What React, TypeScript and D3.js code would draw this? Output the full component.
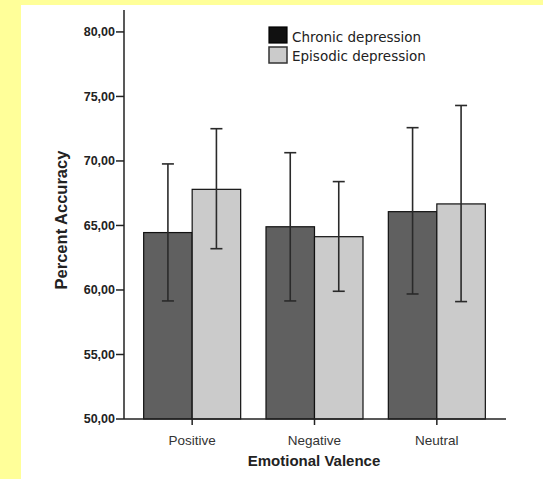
import React from "react";
import * as d3 from "d3";

const categories = ["Positive", "Negative", "Neutral"];
const seriesNames = ["Chronic depression", "Episodic depression"];
const chronicMean = [64.45, 64.9, 66.07];
const chronicLow = [59.15, 59.15, 59.69];
const chronicHigh = [69.77, 70.64, 72.58];
const episodicMean = [67.8, 64.13, 66.67];
const episodicLow = [63.2, 59.9, 59.1];
const episodicHigh = [72.5, 68.4, 74.3];
const yTicks = [50, 55, 60, 65, 70, 75, 80];

const W = 543;
const H = 479;

export default function App() {
  const y = d3.scaleLinear().domain([50, 81.7]).range([419, 10]);
  const x = d3.scaleBand<string>().domain(categories).range([131, 498]);
  const sub = d3.scaleBand<string>().domain(seriesNames).range([-48.5, 48.5]);
  const fmt = (v: number) => d3.format(".2f")(v).replace(".", ",");
  const fills = ["#606060", "#cbcbcb"];
  const series = [
    { mean: chronicMean, low: chronicLow, high: chronicHigh },
    { mean: episodicMean, low: episodicLow, high: episodicHigh },
  ];
  const x0 = 124;
  const x1 = 506;
  const y0 = y(50);
  return (
    <svg
      width={W}
      height={H}
      style={{ position: "absolute", left: 0, top: 0, display: "block" }}
    >
      <rect x={0} y={0} width={W} height={H} fill="#ffff99" />
      <rect x={21} y={5} width={W - 21} height={H - 5} fill="#ffffff" />
      {/* bars */}
      {categories.map((c, i) => {
        const cx = (x(c) ?? 0) + x.bandwidth() / 2;
        return series.map((s, j) => {
          const bx = cx + (sub(seriesNames[j]) ?? 0);
          const bw = sub.bandwidth();
          return (
            <rect
              key={c + j}
              x={bx}
              y={y(s.mean[i])}
              width={bw}
              height={y0 - y(s.mean[i])}
              fill={fills[j]}
              stroke="#111"
              strokeWidth={1.2}
            />
          );
        });
      })}
      {/* error bars */}
      {categories.map((c, i) => {
        const cx = (x(c) ?? 0) + x.bandwidth() / 2;
        return series.map((s, j) => {
          const ex = cx + (sub(seriesNames[j]) ?? 0) + sub.bandwidth() / 2;
          return (
            <g key={"e" + c + j} stroke="#2a2a2a" strokeWidth={1.6}>
              <line x1={ex} x2={ex} y1={y(s.high[i])} y2={y(s.low[i])} />
              <line x1={ex - 6} x2={ex + 6} y1={y(s.high[i])} y2={y(s.high[i])} />
              <line x1={ex - 6} x2={ex + 6} y1={y(s.low[i])} y2={y(s.low[i])} />
            </g>
          );
        });
      })}
      {/* axes */}
      <line x1={x0} x2={x0} y1={y.range()[1]} y2={y0} stroke="#222" strokeWidth={1.5} />
      <line x1={x0} x2={x1} y1={y0} y2={y0} stroke="#222" strokeWidth={1.5} />
      {yTicks.map((t) => (
        <g key={t}>
          <line x1={x0 - 8} x2={x0} y1={y(t)} y2={y(t)} stroke="#222" strokeWidth={1.5} />
          <text
            x={x0 - 9}
            y={y(t)}
            dy="0.35em"
            textAnchor="end"
            fontFamily="Liberation Sans, Arial, sans-serif"
            fontWeight="bold"
            fontSize={12.5}
            fill="#222"
          >
            {fmt(t)}
          </text>
        </g>
      ))}
      {categories.map((c) => {
        const cx = (x(c) ?? 0) + x.bandwidth() / 2;
        return (
          <g key={"t" + c}>
            <line x1={cx} x2={cx} y1={y0} y2={y0 + 6} stroke="#222" strokeWidth={1.5} />
            <text
              x={cx}
              y={445}
              textAnchor="middle"
              fontFamily="Liberation Sans, Arial, sans-serif"
              fontSize={13.5}
              fill="#333"
            >
              {c}
            </text>
          </g>
        );
      })}
      <text
        x={314}
        y={466}
        textAnchor="middle"
        fontFamily="Liberation Sans, Arial, sans-serif"
        fontWeight="bold"
        fontSize={15}
        fill="#222"
      >
        Emotional Valence
      </text>
      <text
        transform="translate(67,220) rotate(-90)"
        textAnchor="middle"
        fontFamily="Liberation Sans, Arial, sans-serif"
        fontWeight="bold"
        fontSize={16.5}
        fill="#222"
      >
        Percent Accuracy
      </text>
      {/* legend */}
      <rect x={269} y={27} width={18} height={16} fill="#111" stroke="#000" strokeWidth={1.2} />
      <rect x={269} y={47} width={18} height={16} fill="#cbcbcb" stroke="#333" strokeWidth={1.5} />
      <text x={292} y={42} fontFamily="DejaVu Sans, Verdana, sans-serif" fontSize={13.5} fill="#222">
        {seriesNames[0]}
      </text>
      <text x={292} y={61} fontFamily="DejaVu Sans, Verdana, sans-serif" fontSize={13.5} fill="#222">
        {seriesNames[1]}
      </text>
    </svg>
  );
}
